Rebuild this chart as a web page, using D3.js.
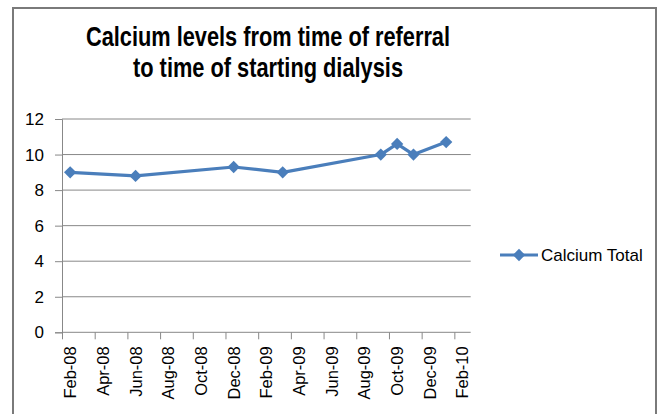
<!DOCTYPE html>
<html>
<head>
<meta charset="utf-8">
<script src="https://cdn.jsdelivr.net/npm/d3@7"></script>
<style>
  html, body { margin: 0; padding: 0; background: #fff; }
  svg { display: block; }
</style>
</head>
<body>
<svg id="chart" width="659" height="414"></svg>
<script>
// ---- data ----
const titleLines = ["Calcium levels from time of referral", "to time of starting dialysis"];
const seriesName = "Calcium Total";
const dates = ["2008-02", "2008-06", "2008-12", "2009-03", "2009-09", "2009-10", "2009-11", "2010-01"];
const calcium = [9.0, 8.8, 9.3, 9.0, 10.0, 10.6, 10.0, 10.7];
const xTickLabels = ["Feb-08", "Apr-08", "Jun-08", "Aug-08", "Oct-08", "Dec-08", "Feb-09", "Apr-09", "Jun-09", "Aug-09", "Oct-09", "Dec-09", "Feb-10"];
const yTicks = [0, 2, 4, 6, 8, 10, 12];

// ---- layout ----
const W = 659, H = 414;
const plot = { left: 62, right: 470.7, top: 119, bottom: 332.3 };
const startYear = 2008, startMonth = 2; // Feb-08
const nMonths = 25; // Feb-08 .. Feb-10 inclusive
const blue = "#4a7ebb";
const grid = "#888888";
const font = "'Liberation Sans', Arial, sans-serif";
const titleWidths = [364, 270];

function monthIndex(s) {
  const [y, m] = s.split("-").map(Number);
  return (y - startYear) * 12 + (m - startMonth);
}

const svg = d3.select("#chart");

// frame
svg.append("rect")
  .attr("x", 13).attr("y", 8)
  .attr("width", 643).attr("height", 420)
  .attr("fill", "#fff")
  .attr("stroke", "#7a7a7a").attr("stroke-width", 2);

// title
svg.append("g").selectAll("text").data(titleLines).join("text")
  .attr("x", 268)
  .attr("y", (d, i) => 46 + i * 31)
  .attr("text-anchor", "middle")
  .attr("font-family", font)
  .attr("font-weight", "bold")
  .attr("font-size", 28)
  .attr("textLength", (d, i) => titleWidths[i])
  .attr("lengthAdjust", "spacingAndGlyphs")
  .attr("fill", "#000")
  .text(d => d);

// scales
const x = d3.scaleLinear().domain([0, nMonths]).range([plot.left, plot.right]);
const y = d3.scaleLinear().domain([0, 12]).range([plot.bottom, plot.top]);

// gridlines
svg.append("g").selectAll("line").data(yTicks.filter(d => d > 0)).join("line")
  .attr("x1", plot.left).attr("x2", plot.right)
  .attr("y1", d => y(d)).attr("y2", d => y(d))
  .attr("stroke", grid).attr("stroke-width", 1);

// y axis
const yAxis = d3.axisLeft(y).tickValues(yTicks).tickSize(7).tickPadding(11);
const gy = svg.append("g").attr("transform", `translate(${plot.left},0)`).call(yAxis);
gy.select(".domain").attr("stroke", grid);
gy.selectAll(".tick line").attr("stroke", grid);
gy.selectAll(".tick text")
  .attr("font-family", font).attr("font-size", 17).attr("fill", "#000");

// x axis (month slots, tick every 2 months, labels centered in slot)
const tickIdx = xTickLabels.map((d, i) => i * 2);
const xAxis = d3.axisBottom(x).tickValues(tickIdx).tickSize(7).tickFormat("");
const gx = svg.append("g").attr("transform", `translate(0,${plot.bottom})`).call(xAxis);
gx.select(".domain").attr("stroke", grid).attr("d", `M${plot.left},0H${plot.right}`);
gx.selectAll(".tick line").attr("stroke", grid);

svg.append("g").selectAll("text").data(xTickLabels).join("text")
  .attr("transform", (d, i) => `translate(${x(tickIdx[i] + 0.5)},${plot.bottom + 14}) rotate(-90)`)
  .attr("text-anchor", "end")
  .attr("dy", "0.36em")
  .attr("font-family", font).attr("font-size", 16.5).attr("fill", "#000")
  .text(d => d);

// series
const pts = dates.map((d, i) => ({ xi: monthIndex(d) + 0.5, v: calcium[i] }));
const line = d3.line().x(d => x(d.xi)).y(d => y(d.v));
svg.append("path").datum(pts)
  .attr("d", line)
  .attr("fill", "none")
  .attr("stroke", blue).attr("stroke-width", 3.2)
  .attr("stroke-linejoin", "round");

const marker = d3.symbol().type(d3.symbolSquare).size(76);
svg.append("g").selectAll("path").data(pts).join("path")
  .attr("d", marker)
  .attr("transform", d => `translate(${x(d.xi)},${y(d.v)}) rotate(45)`)
  .attr("fill", blue);

// legend
const lg = svg.append("g").attr("transform", "translate(500,255)");
lg.append("line").attr("x1", 0).attr("x2", 38).attr("y1", 0).attr("y2", 0)
  .attr("stroke", blue).attr("stroke-width", 3.2);
lg.append("path").attr("transform", "translate(19,0) rotate(45)")
  .attr("d", marker).attr("fill", blue);
lg.append("text").attr("x", 41).attr("y", 0).attr("dy", "0.36em")
  .attr("font-family", font).attr("font-size", 17).attr("fill", "#000")
  .text(seriesName);
</script>
</body>
</html>
